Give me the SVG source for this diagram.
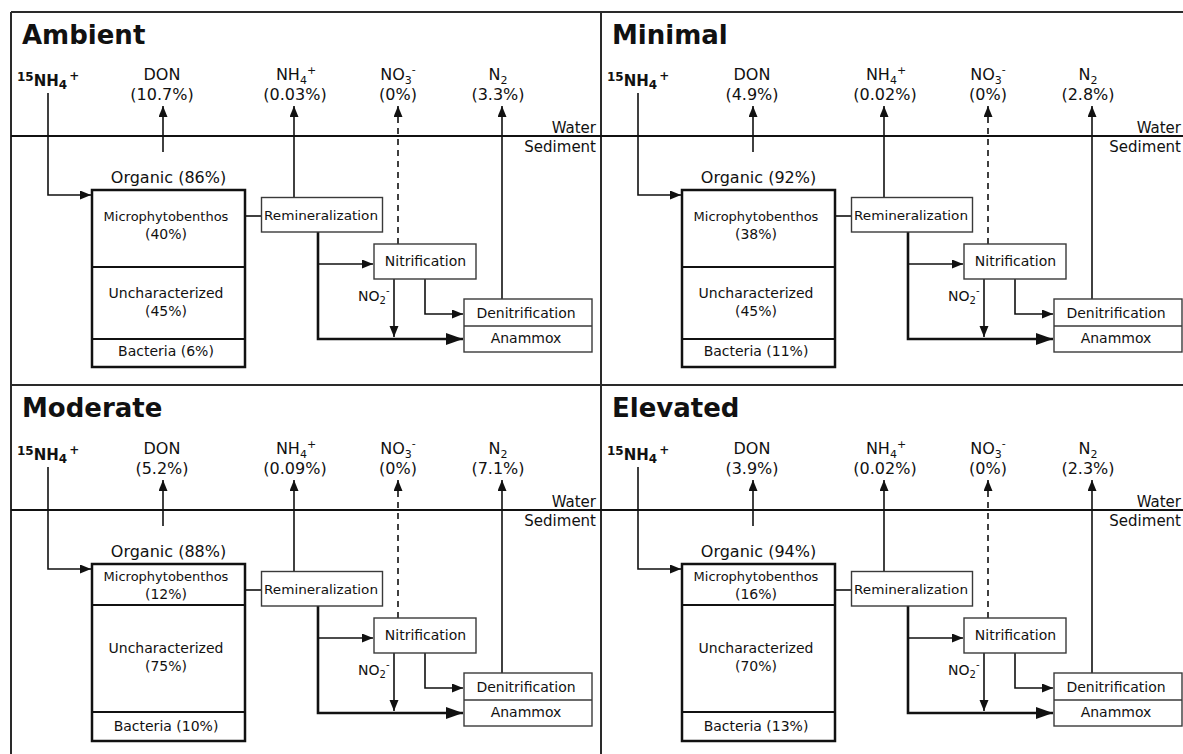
<svg xmlns="http://www.w3.org/2000/svg" width="1183" height="754" viewBox="0 0 1183 754">
<style>
text{font-family:"DejaVu Sans","Verdana",sans-serif;fill:#111}
.title{font-size:26px;font-weight:bold}
.t16{font-size:16px}
.t16m{font-size:16px;text-anchor:middle}
.t15{font-size:15px}
.t14m{font-size:14px;text-anchor:middle}
.t13m{font-size:13px;text-anchor:middle}
.t13{font-size:13px}
.t14{font-size:14px}
.sub{font-size:11px}
.frame{stroke:#2a2a2a;stroke-width:2;fill:none}
.wl{stroke:#111;stroke-width:2}
.ln{stroke:#111;stroke-width:1.6;fill:none}
.thk{stroke:#111;stroke-width:2.6;fill:none}
.dash{stroke-dasharray:6 5}
.bx{fill:#fff;stroke:#3a3a3a;stroke-width:1.4}
.obx{fill:#fff;stroke:#111;stroke-width:2.5}
.div{stroke:#111;stroke-width:2}
.ar{marker-end:url(#ah)}
.arb{marker-end:url(#ahb)}
</style>
<defs>
<marker id="ah" markerUnits="userSpaceOnUse" markerWidth="12" markerHeight="10" refX="11" refY="4.5" orient="auto">
<path d="M0,0 L11,4.5 L0,9 z" fill="#111"/>
</marker>
<marker id="ahb" markerUnits="userSpaceOnUse" markerWidth="18" markerHeight="14" refX="17" refY="6" orient="auto">
<path d="M0,0 L17,6 L0,12 z" fill="#111"/>
</marker>
</defs>
<rect width="1183" height="754" fill="#fff"/>
<g id="frame">
<line class="frame" x1="11" y1="12" x2="1183" y2="12"/>
<line class="frame" x1="11" y1="12" x2="11" y2="754"/>
<line class="frame" x1="601" y1="12" x2="601" y2="754"/>
<line class="frame" x1="11" y1="385" x2="1183" y2="385"/>
</g>

<!-- ===== Ambient ===== -->
<g id="ambient">
<text class="title" x="22" y="44">Ambient</text>
<line class="wl" x1="11" y1="136" x2="601" y2="136"/>
<text class="t15" x="596" y="133" text-anchor="end">Water</text>
<text class="t15" x="596" y="152" text-anchor="end">Sediment</text>
<g id="amb-connectors">
<path class="ln ar" d="M48,93 V195 H91"/>
<path class="ln ar" d="M163,152 V106"/>
<path class="ln ar" d="M294,197 V106"/>
<path class="ln dash ar" d="M398,244 V106"/>
<path class="ln ar" d="M502,299 V106"/>
<path class="ln" d="M245,216 H262"/>
<path class="thk arb" d="M318,232 V339 H463"/>
<path class="ln ar" d="M318,264 H373"/>
<path class="ln ar" d="M394,279 V337"/>
<path class="ln ar" d="M425,279 V314 H463"/>
</g>
<g id="amb-nh4in"><text font-weight="bold" x="17" y="81"><tspan font-size="12">15</tspan><tspan font-size="15" dy="5">NH</tspan><tspan font-size="12" dy="3">4</tspan><tspan font-size="12" dy="-9" dx="2">+</tspan></text></g>
<g id="amb-don"><text class="t16m" x="162" y="80">DON</text><text class="t16m" x="162" y="100">(10.7%)</text></g>
<g id="amb-nh4"><text class="t16m" x="296" y="80">NH<tspan class="sub" dy="4">4</tspan><tspan class="sub" dy="-10">+</tspan></text><text class="t16m" x="295" y="100">(0.03%)</text></g>
<g id="amb-no3"><text class="t16m" x="398" y="80">NO<tspan class="sub" dy="4">3</tspan><tspan class="sub" dy="-11">-</tspan></text><text class="t16m" x="398" y="100">(0%)</text></g>
<g id="amb-n2"><text class="t16m" x="498" y="80">N<tspan class="sub" dy="4">2</tspan></text><text class="t16m" x="498" y="100">(3.3%)</text></g>
<g id="amb-organic">
<text class="t16m" x="168.5" y="183">Organic (86%)</text>
<rect class="obx" x="92" y="190" width="153" height="177"/>
<line class="div" x1="92" y1="267" x2="245" y2="267"/>
<line class="div" x1="92" y1="339" x2="245" y2="339"/>
<text class="t13m" x="166" y="221">Microphytobenthos</text>
<text class="t14m" x="166" y="239">(40%)</text>
<text class="t14m" x="166" y="298">Uncharacterized</text>
<text class="t14m" x="166" y="316">(45%)</text>
<text class="t14m" x="166" y="356">Bacteria (6%)</text>
</g>
<g id="amb-remin"><rect class="bx" x="261.5" y="197.5" width="121" height="34.5"/><text class="t13" x="264" y="219.5" textLength="114" lengthAdjust="spacingAndGlyphs">Remineralization</text></g>
<g id="amb-nitri"><rect class="bx" x="374" y="244" width="102" height="35"/><text class="t14m" x="425.5" y="266">Nitrification</text></g>
<g id="amb-no2"><text class="t14" x="358" y="301">NO<tspan font-size="10" dy="3">2</tspan><tspan font-size="10" dy="-10">-</tspan></text></g>
<g id="amb-denit"><rect class="bx" x="464" y="299" width="128" height="53"/><line class="bx" x1="464" y1="326" x2="592" y2="326"/><text class="t14m" x="526" y="318">Denitrification</text><text class="t14m" x="526" y="343">Anammox</text></g>
</g>

<!-- ===== Minimal ===== -->
<g id="minimal" transform="translate(590,0)">
<text class="title" x="22" y="44">Minimal</text>
<line class="wl" x1="11" y1="136" x2="601" y2="136"/>
<text class="t15" x="591" y="133" text-anchor="end">Water</text>
<text class="t15" x="591" y="152" text-anchor="end">Sediment</text>
<g id="min-connectors">
<path class="ln ar" d="M48,93 V195 H91"/>
<path class="ln ar" d="M163,152 V106"/>
<path class="ln ar" d="M294,197 V106"/>
<path class="ln dash ar" d="M398,244 V106"/>
<path class="ln ar" d="M502,299 V106"/>
<path class="ln" d="M245,216 H262"/>
<path class="thk arb" d="M318,232 V339 H463"/>
<path class="ln ar" d="M318,264 H373"/>
<path class="ln ar" d="M394,279 V337"/>
<path class="ln ar" d="M425,279 V314 H463"/>
</g>
<g id="min-nh4in"><text font-weight="bold" x="17" y="81"><tspan font-size="12">15</tspan><tspan font-size="15" dy="5">NH</tspan><tspan font-size="12" dy="3">4</tspan><tspan font-size="12" dy="-9" dx="2">+</tspan></text></g>
<g id="min-don"><text class="t16m" x="162" y="80">DON</text><text class="t16m" x="162" y="100">(4.9%)</text></g>
<g id="min-nh4"><text class="t16m" x="296" y="80">NH<tspan class="sub" dy="4">4</tspan><tspan class="sub" dy="-10">+</tspan></text><text class="t16m" x="295" y="100">(0.02%)</text></g>
<g id="min-no3"><text class="t16m" x="398" y="80">NO<tspan class="sub" dy="4">3</tspan><tspan class="sub" dy="-11">-</tspan></text><text class="t16m" x="398" y="100">(0%)</text></g>
<g id="min-n2"><text class="t16m" x="498" y="80">N<tspan class="sub" dy="4">2</tspan></text><text class="t16m" x="498" y="100">(2.8%)</text></g>
<g id="min-organic">
<text class="t16m" x="168.5" y="183">Organic (92%)</text>
<rect class="obx" x="92" y="190" width="153" height="177"/>
<line class="div" x1="92" y1="267" x2="245" y2="267"/>
<line class="div" x1="92" y1="339" x2="245" y2="339"/>
<text class="t13m" x="166" y="221">Microphytobenthos</text>
<text class="t14m" x="166" y="239">(38%)</text>
<text class="t14m" x="166" y="298">Uncharacterized</text>
<text class="t14m" x="166" y="316">(45%)</text>
<text class="t14m" x="166" y="356">Bacteria (11%)</text>
</g>
<g id="min-remin"><rect class="bx" x="261.5" y="197.5" width="121" height="34.5"/><text class="t13" x="264" y="219.5" textLength="114" lengthAdjust="spacingAndGlyphs">Remineralization</text></g>
<g id="min-nitri"><rect class="bx" x="374" y="244" width="102" height="35"/><text class="t14m" x="425.5" y="266">Nitrification</text></g>
<g id="min-no2"><text class="t14" x="358" y="301">NO<tspan font-size="10" dy="3">2</tspan><tspan font-size="10" dy="-10">-</tspan></text></g>
<g id="min-denit"><rect class="bx" x="464" y="299" width="128" height="53"/><line class="bx" x1="464" y1="326" x2="592" y2="326"/><text class="t14m" x="526" y="318">Denitrification</text><text class="t14m" x="526" y="343">Anammox</text></g>
</g>

<!-- ===== Moderate ===== -->
<g id="moderate" transform="translate(0,374)">
<text class="title" x="22" y="43">Moderate</text>
<line class="wl" x1="11" y1="136" x2="601" y2="136"/>
<text class="t15" x="596" y="133" text-anchor="end">Water</text>
<text class="t15" x="596" y="152" text-anchor="end">Sediment</text>
<g id="mod-connectors">
<path class="ln ar" d="M48,93 V195 H91"/>
<path class="ln ar" d="M163,152 V106"/>
<path class="ln ar" d="M294,197 V106"/>
<path class="ln dash ar" d="M398,244 V106"/>
<path class="ln ar" d="M502,299 V106"/>
<path class="ln" d="M245,216 H262"/>
<path class="thk arb" d="M318,232 V339 H463"/>
<path class="ln ar" d="M318,264 H373"/>
<path class="ln ar" d="M394,279 V337"/>
<path class="ln ar" d="M425,279 V314 H463"/>
</g>
<g id="mod-nh4in"><text font-weight="bold" x="17" y="81"><tspan font-size="12">15</tspan><tspan font-size="15" dy="5">NH</tspan><tspan font-size="12" dy="3">4</tspan><tspan font-size="12" dy="-9" dx="2">+</tspan></text></g>
<g id="mod-don"><text class="t16m" x="162" y="80">DON</text><text class="t16m" x="162" y="100">(5.2%)</text></g>
<g id="mod-nh4"><text class="t16m" x="296" y="80">NH<tspan class="sub" dy="4">4</tspan><tspan class="sub" dy="-10">+</tspan></text><text class="t16m" x="295" y="100">(0.09%)</text></g>
<g id="mod-no3"><text class="t16m" x="398" y="80">NO<tspan class="sub" dy="4">3</tspan><tspan class="sub" dy="-11">-</tspan></text><text class="t16m" x="398" y="100">(0%)</text></g>
<g id="mod-n2"><text class="t16m" x="498" y="80">N<tspan class="sub" dy="4">2</tspan></text><text class="t16m" x="498" y="100">(7.1%)</text></g>
<g id="mod-organic">
<text class="t16m" x="168.5" y="183">Organic (88%)</text>
<rect class="obx" x="92" y="190" width="153" height="177"/>
<line class="div" x1="92" y1="231" x2="245" y2="231"/>
<line class="div" x1="92" y1="338" x2="245" y2="338"/>
<text class="t13m" x="166" y="207">Microphytobenthos</text>
<text class="t14m" x="166" y="225">(12%)</text>
<text class="t14m" x="166" y="279">Uncharacterized</text>
<text class="t14m" x="166" y="297">(75%)</text>
<text class="t14m" x="166" y="357">Bacteria (10%)</text>
</g>
<g id="mod-remin"><rect class="bx" x="261.5" y="197.5" width="121" height="34.5"/><text class="t13" x="264" y="219.5" textLength="114" lengthAdjust="spacingAndGlyphs">Remineralization</text></g>
<g id="mod-nitri"><rect class="bx" x="374" y="244" width="102" height="35"/><text class="t14m" x="425.5" y="266">Nitrification</text></g>
<g id="mod-no2"><text class="t14" x="358" y="301">NO<tspan font-size="10" dy="3">2</tspan><tspan font-size="10" dy="-10">-</tspan></text></g>
<g id="mod-denit"><rect class="bx" x="464" y="299" width="128" height="53"/><line class="bx" x1="464" y1="326" x2="592" y2="326"/><text class="t14m" x="526" y="318">Denitrification</text><text class="t14m" x="526" y="343">Anammox</text></g>
</g>

<!-- ===== Elevated ===== -->
<g id="elevated" transform="translate(590,374)">
<text class="title" x="22" y="43">Elevated</text>
<line class="wl" x1="11" y1="136" x2="601" y2="136"/>
<text class="t15" x="591" y="133" text-anchor="end">Water</text>
<text class="t15" x="591" y="152" text-anchor="end">Sediment</text>
<g id="ele-connectors">
<path class="ln ar" d="M48,93 V195 H91"/>
<path class="ln ar" d="M163,152 V106"/>
<path class="ln ar" d="M294,197 V106"/>
<path class="ln dash ar" d="M398,244 V106"/>
<path class="ln ar" d="M502,299 V106"/>
<path class="ln" d="M245,216 H262"/>
<path class="thk arb" d="M318,232 V339 H463"/>
<path class="ln ar" d="M318,264 H373"/>
<path class="ln ar" d="M394,279 V337"/>
<path class="ln ar" d="M425,279 V314 H463"/>
</g>
<g id="ele-nh4in"><text font-weight="bold" x="17" y="81"><tspan font-size="12">15</tspan><tspan font-size="15" dy="5">NH</tspan><tspan font-size="12" dy="3">4</tspan><tspan font-size="12" dy="-9" dx="2">+</tspan></text></g>
<g id="ele-don"><text class="t16m" x="162" y="80">DON</text><text class="t16m" x="162" y="100">(3.9%)</text></g>
<g id="ele-nh4"><text class="t16m" x="296" y="80">NH<tspan class="sub" dy="4">4</tspan><tspan class="sub" dy="-10">+</tspan></text><text class="t16m" x="295" y="100">(0.02%)</text></g>
<g id="ele-no3"><text class="t16m" x="398" y="80">NO<tspan class="sub" dy="4">3</tspan><tspan class="sub" dy="-11">-</tspan></text><text class="t16m" x="398" y="100">(0%)</text></g>
<g id="ele-n2"><text class="t16m" x="498" y="80">N<tspan class="sub" dy="4">2</tspan></text><text class="t16m" x="498" y="100">(2.3%)</text></g>
<g id="ele-organic">
<text class="t16m" x="168.5" y="183">Organic (94%)</text>
<rect class="obx" x="92" y="190" width="153" height="177"/>
<line class="div" x1="92" y1="231" x2="245" y2="231"/>
<line class="div" x1="92" y1="338" x2="245" y2="338"/>
<text class="t13m" x="166" y="207">Microphytobenthos</text>
<text class="t14m" x="166" y="225">(16%)</text>
<text class="t14m" x="166" y="279">Uncharacterized</text>
<text class="t14m" x="166" y="297">(70%)</text>
<text class="t14m" x="166" y="357">Bacteria (13%)</text>
</g>
<g id="ele-remin"><rect class="bx" x="261.5" y="197.5" width="121" height="34.5"/><text class="t13" x="264" y="219.5" textLength="114" lengthAdjust="spacingAndGlyphs">Remineralization</text></g>
<g id="ele-nitri"><rect class="bx" x="374" y="244" width="102" height="35"/><text class="t14m" x="425.5" y="266">Nitrification</text></g>
<g id="ele-no2"><text class="t14" x="358" y="301">NO<tspan font-size="10" dy="3">2</tspan><tspan font-size="10" dy="-10">-</tspan></text></g>
<g id="ele-denit"><rect class="bx" x="464" y="299" width="128" height="53"/><line class="bx" x1="464" y1="326" x2="592" y2="326"/><text class="t14m" x="526" y="318">Denitrification</text><text class="t14m" x="526" y="343">Anammox</text></g>
</g>
</svg>
